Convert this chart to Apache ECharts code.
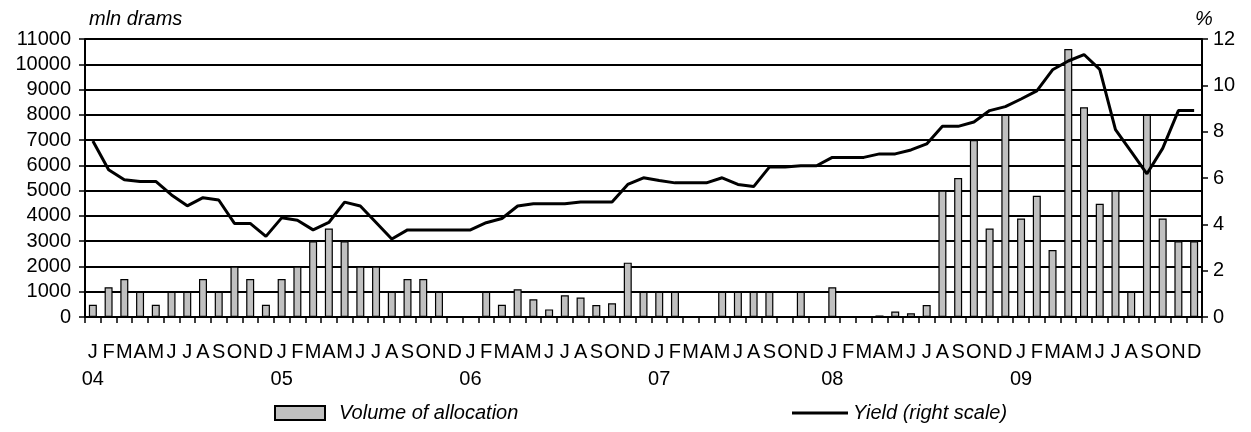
<!DOCTYPE html>
<html>
<head>
<meta charset="utf-8">
<script src="https://cdn.jsdelivr.net/npm/echarts@6/dist/echarts.min.js"></script>
<style>
html,body{margin:0;padding:0;background:#fff;}
#chart{width:1251px;height:432px;}
</style>
</head>
<body>
<div id="chart"></div>
<script>
// Categories: monthly, Jan 2004 - Dec 2009 (no July 2007 in the source)
const categories = [
  "2004-01","2004-02","2004-03","2004-04","2004-05","2004-06","2004-07","2004-08","2004-09","2004-10","2004-11","2004-12",
  "2005-01","2005-02","2005-03","2005-04","2005-05","2005-06","2005-07","2005-08","2005-09","2005-10","2005-11","2005-12",
  "2006-01","2006-02","2006-03","2006-04","2006-05","2006-06","2006-07","2006-08","2006-09","2006-10","2006-11","2006-12",
  "2007-01","2007-02","2007-03","2007-04","2007-05","2007-06","2007-08","2007-09","2007-10","2007-11","2007-12",
  "2008-01","2008-02","2008-03","2008-04","2008-05","2008-06","2008-07","2008-08","2008-09","2008-10","2008-11","2008-12",
  "2009-01","2009-02","2009-03","2009-04","2009-05","2009-06","2009-07","2009-08","2009-09","2009-10","2009-11","2009-12"
];
const monthLetters = ["J","F","M","A","M","J","J","A","S","O","N","D"];

// Volume of allocation, mln drams (null = no allocation)
const volume = [
  480,1180,1500,1000,480,1000,1000,1500,1000,2000,1500,480,
  1500,2000,3000,3500,3000,2000,2000,1000,1500,1500,1000,null,
  null,1000,480,1100,700,300,860,770,470,540,2150,1000,
  1000,1000,null,null,1000,1000,1000,1000,null,1000,null,
  1180,null,null,60,220,150,470,5000,5500,7000,3500,8000,
  3900,4800,2650,10600,8300,4480,5000,1000,8000,3900,3000,3000
];

// Yield, % (right scale)
const yieldPct = [
  7.60,6.36,5.92,5.85,5.85,5.27,4.80,5.15,5.05,4.04,4.04,3.48,
  4.28,4.18,3.76,4.08,4.96,4.79,4.08,3.37,3.76,3.76,3.76,3.76,
  3.76,4.07,4.25,4.79,4.89,4.89,4.89,4.96,4.96,4.96,5.72,6.01,
  5.89,5.79,5.79,5.79,6.01,5.72,5.63,6.47,6.47,6.53,6.53,
  6.89,6.89,6.89,7.04,7.04,7.21,7.47,8.23,8.23,8.42,8.91,9.08,
  9.41,9.76,10.67,11.05,11.33,10.69,8.09,7.14,6.18,7.28,8.91,8.91
];

const FONT = "'Liberation Sans', Arial, sans-serif";

const chart = echarts.init(document.getElementById('chart'), null, {renderer:'canvas'});
chart.setOption({
  animation: false,
  backgroundColor: '#fff',
  textStyle: {fontFamily: FONT, color: '#000'},
  grid: {left: 85, right: 49, top: 39, bottom: 115, containLabel: false},
  graphic: [
    {type:'text', left: 89, top: 9, style:{text:'mln drams', font:"italic 20px 'Liberation Sans', Arial, sans-serif", fill:'#000'}},
    {type:'text', left: 1195, top: 9, style:{text:'%', font:"italic 20px 'Liberation Sans', Arial, sans-serif", fill:'#000'}}
  ],
  legend: [
    {
      left: 269, top: 398, itemWidth: 50, itemHeight: 14, itemGap: 0,
      data: [{name: 'Volume of allocation', icon: 'rect'}],
      textStyle: {fontFamily: FONT, fontSize: 20, fontStyle: 'italic', color: '#000', padding: [0,0,0,9]}
    },
    {
      left: 787, top: 398, itemWidth: 56, itemHeight: 3, itemGap: 0,
      data: [{name: 'Yield (right scale)', icon: 'rect'}],
      textStyle: {fontFamily: FONT, fontSize: 20, fontStyle: 'italic', color: '#000', padding: [0,0,0,0]}
    }
  ],
  xAxis: {
    type: 'category',
    data: categories,
    boundaryGap: true,
    axisLine: {lineStyle: {color: '#000', width: 2}},
    axisTick: {show: true, interval: 0, length: 6, lineStyle: {color: '#000', width: 1.5}},
    axisLabel: {
      interval: 0,
      margin: 22,
      fontFamily: FONT,
      fontSize: 20,
      color: '#000',
      lineHeight: 27,
      formatter: function (v) {
        const parts = v.split('-');
        const m = parseInt(parts[1], 10);
        const letter = monthLetters[m - 1];
        return m === 1 ? letter + '\n' + parts[0].slice(2) : letter;
      }
    }
  },
  yAxis: [
    {
      type: 'value', min: 0, max: 11000, interval: 1000,
      axisLine: {show: true, lineStyle: {color: '#000', width: 2}},
      axisTick: {show: true, length: 6, lineStyle: {color: '#000', width: 1.5}},
      axisLabel: {fontFamily: FONT, fontSize: 20, color: '#000', margin: 14, formatter: function (v) { return String(v); }},
      splitLine: {show: true, lineStyle: {color: '#000', width: 1.8}}
    },
    {
      type: 'value', min: 0, max: 12, interval: 2,
      position: 'right',
      axisLine: {show: true, lineStyle: {color: '#000', width: 2}},
      axisTick: {show: true, length: 6, lineStyle: {color: '#000', width: 1.5}},
      axisLabel: {fontFamily: FONT, fontSize: 20, color: '#000', margin: 11},
      splitLine: {show: false}
    }
  ],
  series: [
    {
      name: 'Volume of allocation',
      type: 'bar',
      data: volume,
      barWidth: 8,
      itemStyle: {color: '#c0c0c0', borderColor: '#000', borderWidth: 1.2}
    },
    {
      name: 'Yield (right scale)',
      type: 'line',
      yAxisIndex: 1,
      data: yieldPct,
      symbol: 'none',
      showSymbol: false,
      z: 5,
      lineStyle: {color: '#000', width: 3},
      itemStyle: {color: '#000'}
    }
  ]
});
</script>
</body>
</html>
